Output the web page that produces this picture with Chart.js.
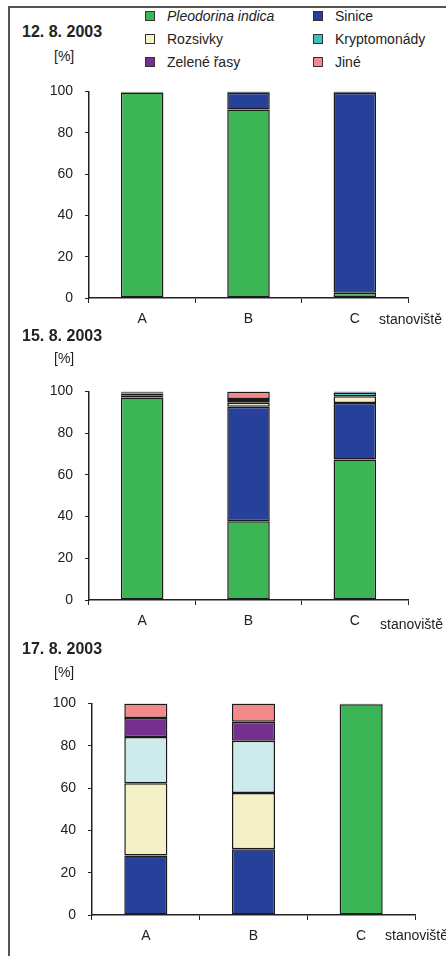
<!DOCTYPE html>
<html>
<head>
<meta charset="utf-8">
<script src="https://cdn.jsdelivr.net/npm/chart.js@4/dist/chart.umd.min.js"></script>
<style>
body { margin: 0; width: 446px; height: 956px; overflow: hidden; background: #fff; font-family: "Liberation Sans", Arial, sans-serif; color: #222; position: relative; }
.frame { position: absolute; left: 8px; top: 6px; width: 460px; height: 960px; border-left: 2px solid #555; border-top: 2px solid #555; }
.box { position: absolute; left: 0; width: 446px; }
.title { position: absolute; left: 22px; font-weight: bold; font-size: 16px; line-height: 18px; }
.unit { position: absolute; left: 54px; font-size: 14px; line-height: 16px; }
.stan { position: absolute; font-size: 14px; line-height: 16px; white-space: nowrap; }
#legend { position: absolute; left: 145px; top: 7px; display: grid; grid-template-columns: 168px 130px; row-gap: 5px; font-size: 14px; }
#legend div { height: 18px; line-height: 18px; white-space: nowrap; }
#legend span.sq { display: inline-block; width: 8px; height: 8px; border: 1px solid #333; margin-right: 12px; vertical-align: 0px; }
</style>
</head>
<body>
<div class="frame"></div>
<div id="legend"></div>

<div class="title" style="top:23px">12. 8. 2003</div>
<div class="unit" style="top:48px">[%]</div>
<div class="box" style="top:71px;height:267px"><canvas id="c1"></canvas></div>
<div class="stan" style="left:379px;top:311px">stanoviště</div>

<div class="title" style="top:327px">15. 8. 2003</div>
<div class="unit" style="top:350px">[%]</div>
<div class="box" style="top:371px;height:269px"><canvas id="c2"></canvas></div>
<div class="stan" style="left:380px;top:616px">stanoviště</div>

<div class="title" style="top:640px">17. 8. 2003</div>
<div class="unit" style="top:664px">[%]</div>
<div class="box" style="top:683px;height:272px"><canvas id="c3"></canvas></div>
<div class="stan" style="left:385px;top:927px">stanoviště</div>

<script>
// kategorie (stanoviště)
const stanoviste = ["A", "B", "C"];

// skupiny a barvy
const skupiny = ["Pleodorina indica", "Sinice", "Rozsivky", "Kryptomonády", "Zelené řasy", "Jiné"];
const barvy = ["#3bb556", "#27419a", "#f4f1c7", "#3cbfc0", "#75308f", "#f38a89"];
// ve třetím grafu jsou kryptomonády světle modré
const barvy3 = ["#3bb556", "#27419a", "#f4f1c7", "#cdeaec", "#75308f", "#f38a89"];

// 12. 8. 2003  (A, B, C), null = skupina chybí
const pleodorina1 = [99.5, 91.2, 2.5];
const sinice1 = [0.2, 8.2, 96.8];
const rozsivky1 = [null, null, null];
const krypto1 = [null, null, 0.7];
const zelene1 = [0.1, 0.3, null];
const jine1 = [0.2, 0.3, null];

// 15. 8. 2003
const pleodorina2 = [97.1, 37.7, 67.3];
const sinice2 = [1.1, 54.9, 27.1];
const rozsivky2 = [0.8, 1.9, 3.3];
const krypto2 = [0.3, 0.9, 1.8];
const zelene2 = [0.4, 0.9, 0.2];
const jine2 = [0.3, 3.7, 0.3];

// 17. 8. 2003
const pleodorina3 = [null, null, 99.6];
const sinice3 = [28.1, 31.1, null];
const rozsivky3 = [34.2, 26.6, null];
const krypto3 = [21.8, 24.7, null];
const zelene3 = [9.0, 8.9, 0.2];
const jine3 = [6.9, 8.7, 0.2];

const ticksY = [0, 20, 40, 60, 80, 100];

// legenda
var leg = document.getElementById("legend");
skupiny.forEach(function(s, i) {
  var d = document.createElement("div");
  var sq = document.createElement("span");
  sq.className = "sq";
  sq.style.background = barvy[i];
  d.appendChild(sq);
  var t = document.createElement("span");
  t.textContent = s;
  if (i === 0) t.style.fontStyle = "italic";
  d.appendChild(t);
  leg.appendChild(d);
});

function graf(id, data, col, left, right, xh) {
  var ds = data.map(function(v, i) {
    return {
      label: skupiny[i],
      data: v,
      backgroundColor: col[i],
      borderColor: "#1a1a1a",
      borderWidth: 1.5,
      borderSkipped: false,
      barPercentage: 0.4,
      categoryPercentage: 1
    };
  });
  return new Chart(document.getElementById(id), {
    type: "bar",
    data: { labels: stanoviste, datasets: ds },
    options: {
      responsive: true,
      maintainAspectRatio: false,
      animation: false,
      layout: { padding: { left: 0, right: 446 - right, top: 10, bottom: 0 } },
      plugins: { legend: { display: false }, tooltip: { enabled: false } },
      scales: {
        x: {
          stacked: true,
          grid: { offset: true, drawOnChartArea: false, drawTicks: true, tickLength: 5, color: "#222", lineWidth: 1 },
          border: { color: "#222", width: 1.5 },
          ticks: { color: "#222", font: { size: 14, family: "Liberation Sans" }, padding: 8 },
          afterFit: function(s) { s.height = xh; }
        },
        y: {
          stacked: true,
          min: 0,
          max: 100,
          afterBuildTicks: function(s) { s.ticks = ticksY.map(function(v) { return { value: v }; }); },
          grid: { drawOnChartArea: false, drawTicks: true, tickLength: 4, color: "#222", lineWidth: 1 },
          border: { color: "#222", width: 1.5 },
          ticks: { color: "#222", font: { size: 14, family: "Liberation Sans" }, padding: 12 },
          afterFit: function(s) { s.width = left; }
        }
      }
    }
  });
}

graf("c1", [pleodorina1, sinice1, rozsivky1, krypto1, zelene1, jine1], barvy, 89, 408, 40);
graf("c2", [pleodorina2, sinice2, rozsivky2, krypto2, zelene2, jine2], barvy, 89, 408, 40);
graf("c3", [pleodorina3, sinice3, rozsivky3, krypto3, zelene3, jine3], barvy3, 92, 415, 40);
</script>
</body>
</html>
